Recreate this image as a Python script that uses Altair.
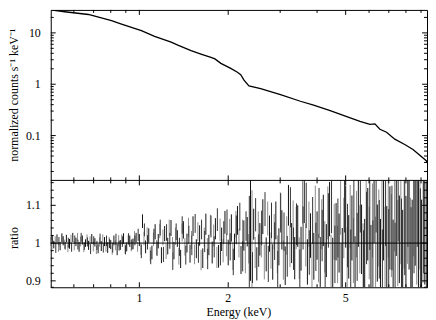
import altair as alt
import pandas as pd

# ---------------- data ----------------
# top panel: folded model / spectrum (energy in keV, normalized counts s^-1 keV^-1)
model_energy = [0.501, 0.559, 0.672, 0.805, 0.870, 1.016, 1.126, 1.282, 1.350, 1.497,
                1.617, 1.748, 1.803, 1.889, 2.040, 2.149, 2.205, 2.262, 2.351, 2.575,
                3.007, 3.512, 3.893, 4.431, 5.043, 5.591, 6.041, 6.281, 6.530, 6.878,
                7.334, 7.925, 8.453, 9.377, 9.92]
model_counts = [30.8, 25.8, 22.8, 17.36, 14.87, 11.07, 8.57, 6.58, 5.76, 4.52,
                3.87, 3.32, 3.11, 2.55, 2.04, 1.71, 1.53, 1.20, 0.924, 0.820,
                0.629, 0.466, 0.391, 0.307, 0.235, 0.189, 0.165, 0.169, 0.1327, 0.1162,
                0.0853, 0.0669, 0.0537, 0.0323, 0.0167]

# bottom panel: data/model ratio
bin_energy = [0.50, 0.513, 0.526, 0.539, 0.552, 0.566, 0.58, 0.595, 0.61, 0.625,
              0.641, 0.657, 0.673, 0.69, 0.707, 0.725, 0.743, 0.762, 0.781, 0.8,
              0.82, 0.841, 0.862, 0.884, 0.906, 0.928, 0.952, 0.975,
              1.0, 1.025, 1.05, 1.076, 1.103, 1.131, 1.159, 1.188, 1.218, 1.248,
              1.28, 1.31, 1.345, 1.38, 1.41, 1.45, 1.485, 1.52, 1.56, 1.6,
              1.64, 1.68, 1.72, 1.765, 1.81, 1.855, 1.9, 1.95,
              2.0, 2.05, 2.1, 2.15, 2.21, 2.26, 2.32, 2.38, 2.44, 2.5,
              2.56, 2.62, 2.69, 2.76, 2.83, 2.9, 2.97, 3.04, 3.12, 3.2,
              3.28, 3.36, 3.44, 3.53, 3.62, 3.71, 3.8, 3.9,
              4.0, 4.1, 4.2, 4.3, 4.41, 4.52, 4.64, 4.75, 4.87, 5.0,
              5.12, 5.25, 5.38, 5.52, 5.66, 5.8, 5.94, 6.09, 6.24, 6.4,
              6.56, 6.72, 6.89, 7.06, 7.24, 7.42, 7.6, 7.8,
              8.0, 8.2, 8.4, 8.6, 8.82, 9.04, 9.27, 9.5, 9.74]
ratio_black = [1.004, 0.996, 1.010, 0.992, 1.006, 1.012, 0.998, 1.015, 1.003, 0.990,
               1.008, 1.000, 0.994, 1.011, 1.002, 0.985, 0.992, 1.004, 0.988, 0.996,
               1.007, 0.983, 0.995, 1.012, 0.990, 1.005, 0.998, 1.014,
               1.008, 1.058, 0.990, 1.020, 0.975, 1.030, 1.005, 0.968, 1.025, 0.992,
               1.040, 0.980, 1.012, 0.958, 1.035, 1.000, 0.972, 1.045, 0.985, 1.020,
               0.960, 1.050, 0.995, 0.975, 1.038, 0.965, 1.010, 1.055,
               0.975, 1.040, 0.990, 1.060, 0.955, 1.020, 1.030, 1.040, 1.050, 0.945,
               1.010, 1.070, 0.970, 1.025, 0.950, 1.060, 0.990, 1.035, 0.940, 1.100,
               1.000, 0.960, 1.045, 0.985, 1.110, 0.950, 1.020, 0.965,
               1.020, 0.950, 1.060, 0.980, 1.090, 0.940, 1.030, 1.000, 0.960, 1.070,
               0.990, 1.040, 0.930, 1.080, 1.010, 0.970, 1.050, 0.950, 1.100, 1.000,
               0.960, 1.060, 0.990, 1.040, 0.950, 1.080, 1.010, 0.970,
               1.000, 1.060, 0.980, 1.080, 1.020, 0.960, 1.050, 1.000, 1.100]
ratio_black2 = [0.998, 1.011, 0.987, 1.005, 1.014, 0.993, 1.001, 0.989, 1.009, 0.996,
                1.015, 0.992, 1.003, 0.984, 1.007, 0.994, 1.012, 0.987, 1.006, 0.999,
                0.988, 1.010, 0.993, 1.004, 0.982, 1.011, 0.996, 1.007,
                1.022, 0.978, 1.035, 1.002, 0.962, 1.018, 0.985, 1.041, 0.970, 1.028,
                1.006, 0.952, 1.030, 0.990, 1.048, 0.968, 1.022, 0.994, 1.052, 0.975,
                1.036, 1.004, 0.958, 1.044, 0.990, 1.062, 0.972, 1.028,
                1.055, 0.990, 0.950, 1.035, 1.070, 0.965, 1.045, 0.985, 0.935, 1.075,
                0.980, 1.040, 1.090, 0.945, 1.060, 1.005, 0.930, 1.080, 1.030, 0.965,
                1.095, 0.985, 1.050, 0.925, 1.040, 1.100, 0.975, 1.060,
                0.990, 1.080, 1.020, 0.930, 1.060, 1.100, 0.970, 1.040, 0.920, 1.110,
                1.020, 0.950, 1.090, 0.990, 1.120, 0.940, 1.040, 1.080, 0.960, 1.130,
                1.010, 0.930, 1.100, 0.980, 1.040, 0.940, 1.120, 1.000,
                1.040, 1.120, 0.960, 1.060, 1.140, 0.990, 1.080, 1.040, 1.150]
ratio_gray = [0.995, 1.008, 0.990, 1.012, 0.997, 0.986, 1.009, 0.993, 1.016, 1.004,
              0.988, 1.013, 1.006, 0.991, 0.982, 1.003, 1.010, 0.989, 1.002, 0.981,
              0.994, 1.006, 1.010, 0.986, 1.009, 0.993, 1.018, 0.990,
              0.985, 1.012, 1.025, 0.970, 1.010, 0.988, 1.032, 1.015, 0.978, 1.040,
              0.995, 1.018, 0.965, 1.028, 0.990, 1.042, 1.008, 0.970, 1.030, 0.955,
              1.015, 0.985, 1.048, 1.020, 0.962, 1.035, 0.980, 0.995,
              1.030, 0.965, 1.050, 1.000, 1.025, 0.960, 0.985, 1.000, 0.975, 1.040,
              1.005, 0.950, 1.065, 0.980, 1.030, 0.970, 1.085, 0.955, 1.020, 0.990,
              1.060, 1.040, 0.960, 1.110, 0.995, 1.050, 0.940, 1.090,
              0.960, 1.050, 0.990, 1.080, 0.950, 1.030, 0.970, 1.100, 1.040, 0.960,
              1.070, 0.980, 1.050, 1.010, 0.960, 1.090, 1.000, 1.060, 0.970, 1.040,
              1.100, 0.990, 1.070, 1.020, 1.090, 1.000, 1.060, 1.050,
              1.070, 0.990, 1.100, 1.030, 1.080, 1.050, 1.000, 1.120, 1.060]
ratio_err = [0.012, 0.010, 0.013, 0.011, 0.012, 0.010, 0.013, 0.012, 0.011, 0.013,
             0.012, 0.010, 0.012, 0.013, 0.011, 0.012, 0.013, 0.012, 0.014, 0.012,
             0.013, 0.015, 0.013, 0.014, 0.012, 0.015, 0.014, 0.013,
             0.016, 0.018, 0.017, 0.019, 0.018, 0.020, 0.019, 0.021, 0.020, 0.022,
             0.021, 0.023, 0.022, 0.024, 0.023, 0.025, 0.024, 0.026, 0.025, 0.027,
             0.026, 0.028, 0.027, 0.029, 0.028, 0.030, 0.031, 0.030,
             0.034, 0.036, 0.035, 0.038, 0.037, 0.040, 0.039, 0.140, 0.041, 0.044,
             0.043, 0.046, 0.045, 0.048, 0.047, 0.050, 0.049, 0.052, 0.051, 0.054,
             0.053, 0.056, 0.055, 0.058, 0.057, 0.060, 0.059, 0.062,
             0.064, 0.066, 0.068, 0.070, 0.072, 0.074, 0.076, 0.078, 0.080, 0.082,
             0.084, 0.086, 0.088, 0.090, 0.092, 0.094, 0.096, 0.098, 0.100, 0.102,
             0.104, 0.106, 0.108, 0.110, 0.112, 0.114, 0.116, 0.118,
             0.125, 0.130, 0.135, 0.140, 0.150, 0.155, 0.160, 0.170, 0.180]

x_major = [1, 2, 5]
x_labels = ["1", "2", "5"]
x_minor = [0.6, 0.7, 0.8, 0.9, 3, 4, 6, 7, 8, 9]
ytop_major = [0.1, 1, 10]
ytop_labels = ["0.1", "1", "10"]
ytop_minor = [0.02, 0.03, 0.04, 0.05, 0.06, 0.07, 0.08, 0.09,
              0.2, 0.3, 0.4, 0.5, 0.6, 0.7, 0.8, 0.9,
              2, 3, 4, 5, 6, 7, 8, 9, 20]
ybot_major = [0.9, 1.0, 1.1]
ybot_labels = ["0.9", "1", "1.1"]
ybot_minor = [0.88, 0.92, 0.94, 0.96, 0.98, 1.02, 1.04, 1.06, 1.08, 1.12, 1.14, 1.16]

x_title = "Energy (keV)"
ytop_title = "normalized counts s\u207b\u00b9 keV\u207b\u00b9"
ybot_title = "ratio"

# ---------------- layout ----------------
W = 378.5        # plot width (keeps the whole chart inside the page width)
H = 279          # both panels together
SPLIT = 171.5    # boundary between the two panels
FONT = "Liberation Serif"

xscale = alt.Scale(type="log", domain=[0.501, 9.43], nice=False)
ytop_scale = alt.Scale(type="log", domain=[0.0134, 28], range=[SPLIT, 0],
                       nice=False, clamp=True)
ybot_scale = alt.Scale(type="linear", domain=[0.883, 1.166], range=[H, SPLIT],
                       nice=False, zero=False, clamp=True)


def XF(field):
    return alt.X(field, scale=xscale, axis=None)


def x_ticks(vals, length, y_top, y_bot):
    base = alt.Chart(pd.DataFrame({"v": vals}))
    a = base.mark_rule(color="black", strokeWidth=1).encode(
        x=XF("v:Q"), y=alt.value(y_top), y2=alt.value(y_top + length))
    b = base.mark_rule(color="black", strokeWidth=1).encode(
        x=XF("v:Q"), y=alt.value(y_bot), y2=alt.value(y_bot - length))
    return [a, b]


def y_ticks(vals, length, scale):
    base = alt.Chart(pd.DataFrame({"v": vals}))
    a = base.mark_rule(color="black", strokeWidth=1).encode(
        y=alt.Y("v:Q", scale=scale, axis=None), x=alt.value(0), x2=alt.value(length))
    b = base.mark_rule(color="black", strokeWidth=1).encode(
        y=alt.Y("v:Q", scale=scale, axis=None), x=alt.value(W), x2=alt.value(W - length))
    return [a, b]


def y_labels(vals, texts, scale):
    return alt.Chart(pd.DataFrame({"v": vals, "t": texts})).mark_text(
        align="right", baseline="middle", font=FONT, fontSize=12, color="black"
    ).encode(y=alt.Y("v:Q", scale=scale, axis=None), x=alt.value(-10), text="t:N")


def v_title(text, ypos):
    return alt.Chart(pd.DataFrame({"t": [text]})).mark_text(
        angle=270, align="center", baseline="middle", font=FONT, fontSize=12, color="black"
    ).encode(x=alt.value(-36.5), y=alt.value(ypos), text="t:N")


def bars(values, color, offset):
    df = pd.DataFrame({"E": bin_energy, "r": values, "e": ratio_err})
    return alt.Chart(df).transform_calculate(
        lo="datum.r - datum.e", hi="datum.r + datum.e"
    ).mark_rule(color=color, strokeWidth=1, xOffset=offset, clip=True).encode(
        x=XF("E:Q"),
        y=alt.Y("lo:Q", scale=ybot_scale, axis=None),
        y2="hi:Q",
    )


# ---- top panel ----
model_df = pd.DataFrame({"E": model_energy, "C": model_counts})
line = alt.Chart(model_df).mark_line(color="black", strokeWidth=1.3, clip=True).encode(
    x=XF("E:Q"),
    y=alt.Y("C:Q", scale=ytop_scale, axis=None),
)

# ---- bottom panel ----
unity = alt.Chart(pd.DataFrame({"u": [1.0]})).mark_rule(color="black", strokeWidth=1).encode(
    y=alt.Y("u:Q", scale=ybot_scale, axis=None)
)
divider = alt.Chart(pd.DataFrame({"u": [0]})).mark_rule(color="black", strokeWidth=1).encode(
    x=alt.value(0), x2=alt.value(W), y=alt.value(SPLIT)
)
x_lab = alt.Chart(pd.DataFrame({"v": x_major, "t": x_labels})).mark_text(
    align="center", baseline="top", font=FONT, fontSize=12, color="black"
).encode(x=XF("v:Q"), y=alt.value(H + 6), text="t:N")
x_tit = alt.Chart(pd.DataFrame({"t": [x_title]})).mark_text(
    align="center", baseline="top", font=FONT, fontSize=12, color="black"
).encode(x=alt.value(W / 2), y=alt.value(H + 19.5), text="t:N")

layers = (
    [bars(ratio_gray, "#8c8c8c", 1.5), bars(ratio_black2, "#333333", -1.2),
     bars(ratio_black, "#111111", 0), unity, line, divider]
    + x_ticks(x_major, 5, 0, SPLIT) + x_ticks(x_minor, 3, 0, SPLIT)
    + x_ticks(x_major, 5, SPLIT, H) + x_ticks(x_minor, 3, SPLIT, H)
    + y_ticks(ytop_major, 5, ytop_scale) + y_ticks(ytop_minor, 3, ytop_scale)
    + y_ticks(ybot_major, 5, ybot_scale) + y_ticks(ybot_minor, 3, ybot_scale)
    + [y_labels(ytop_major, ytop_labels, ytop_scale),
       y_labels(ybot_major, ybot_labels, ybot_scale),
       v_title(ytop_title, SPLIT / 2), v_title(ybot_title, 229.5),
       x_lab, x_tit]
)

chart = alt.layer(*layers).resolve_scale(y="independent").properties(
    width=W, height=H,
    padding={"left": 0, "top": 0, "right": 0, "bottom": 0},
    background="white",
).configure_view(stroke="black", strokeWidth=1)

chart.save("out.html", embed_options={"renderer": "svg", "actions": False})
